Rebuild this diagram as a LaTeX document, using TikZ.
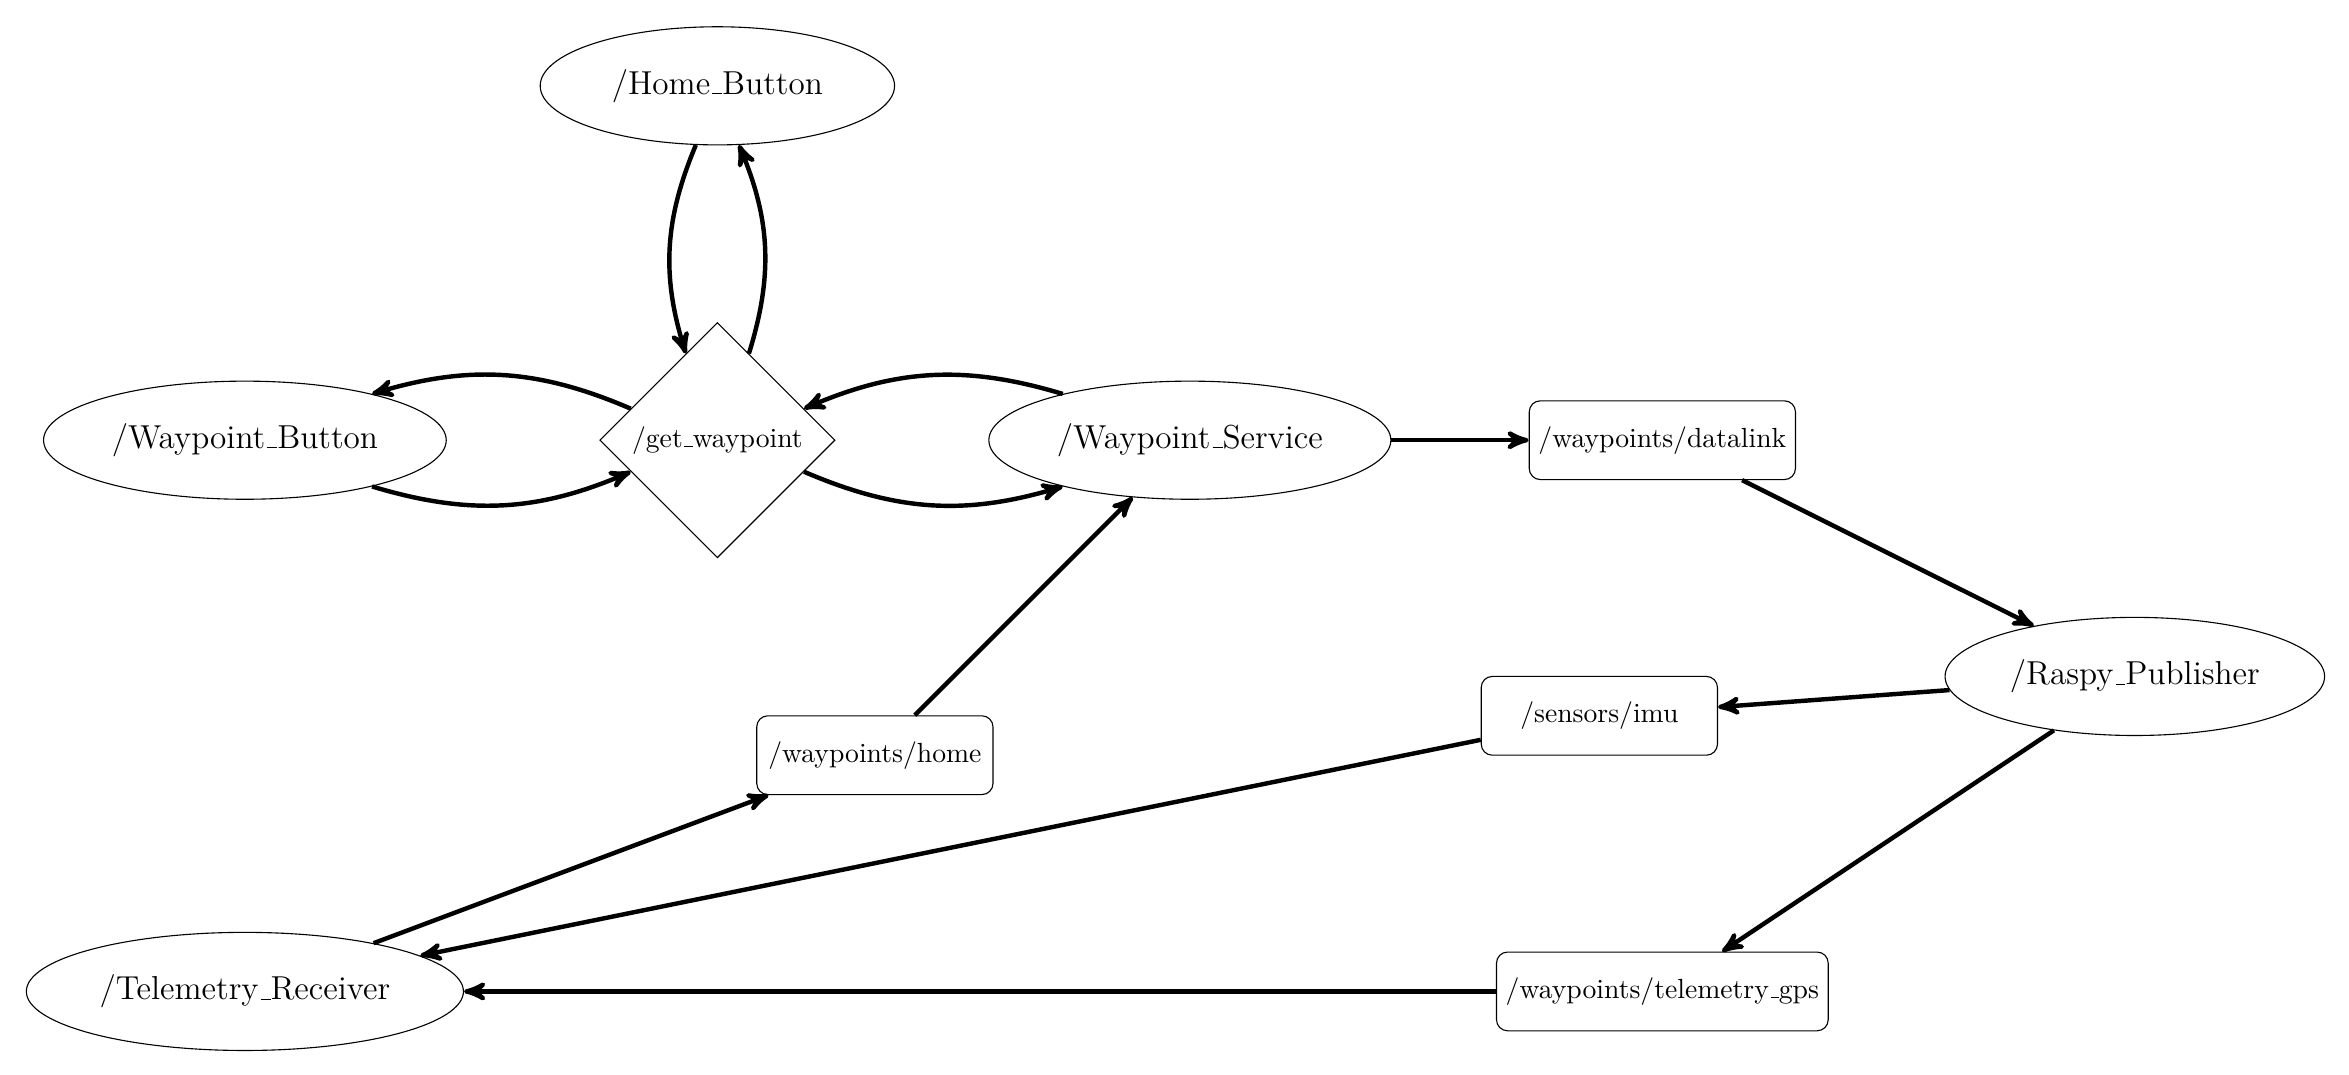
\documentclass[tikz,border=0pt]{standalone}
\usepackage{tikz}
\usetikzlibrary{shapes.geometric, arrows}
\newcommand{\usc}{\leavevmode\kern.06em\vbox{\hrule width .3em}}
\tikzset{->, >=stealth',
    rosnode/.style = {ellipse, draw, thin, minimum width=4.5cm, minimum height=1.5cm, font=\large},
    topic/.style = {rectangle, rounded corners, draw, thin, minimum width=3cm, minimum height=1cm},
    service/.style = {diamond, draw, thin}}

\begin{document}
\begin{tikzpicture}
    \useasboundingbox (-3.11,-8.06) rectangle (26.72,5.59);
    \node[service] (getwp) at (6,0) {/get\usc waypoint};
    \node[rosnode] (homebtn) at (6,4.5) {/Home\usc Button};
    \node[rosnode] (wpbtn) at (0,0) {/Waypoint\usc Button};
    \node[rosnode] (wpsrv) at (12,0) {/Waypoint\usc Service};
    \node[topic] (datalink) at (18,0) {/waypoints/datalink};
    \node[rosnode] (raspy) at (24,-3) {/Raspy\usc Publisher};
    \node[topic] (imu) at (17.2,-3.5) {/sensors/imu};
    \node[topic] (wphome) at (8,-4) {/waypoints/home};
    \node[rosnode] (telem) at (0,-7) {/Telemetry\usc Receiver};
    \node[topic] (gps) at (18,-7) {/waypoints/telemetry\usc gps};
    \draw[ultra thick] (homebtn) edge[bend right=20] (getwp)
          (getwp) edge[bend right=20] (homebtn)
          (getwp) edge[bend right=20] (wpbtn)
          (wpbtn) edge[bend right=20] (getwp)
          (wpsrv) edge[bend right=20] (getwp)
          (getwp) edge[bend right=20] (wpsrv)
          (wpsrv) edge (datalink)
          (datalink) edge (raspy)
          (raspy) edge (imu)
          (raspy) edge (gps)
          (imu) edge (telem)
          (gps) edge (telem)
          (telem) edge (wphome)
          (wphome) edge (wpsrv);
\end{tikzpicture}
\end{document}
